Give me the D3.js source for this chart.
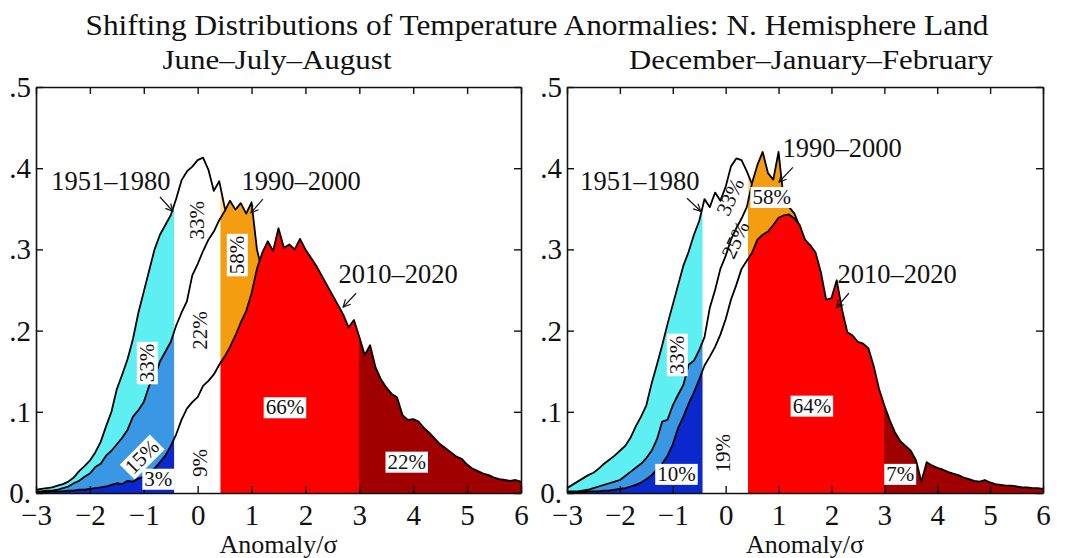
<!DOCTYPE html>
<html>
<head>
<meta charset="utf-8">
<script src="https://cdn.jsdelivr.net/npm/d3@7"></script>
<style>
  body { margin: 0; background: #fff; }
  svg text { font-family: "Liberation Serif", "Times New Roman", serif !important; fill: #111; }
</style>
</head>
<body>
<svg id="chart" width="1065" height="558"></svg>
<script>
// ---------------- DATA ----------------
// density of anomalies (per sigma) on bins from -3.0 to 6.0 sigma, step 0.1
const sigmaBins = d3.range(91).map(i => Math.round((-3 + i * 0.1) * 10) / 10);
const periods = ["1951–1980", "1990–2000", "2010–2020"];
const seasons = ["June–July–August", "December–January–February"];

// June-July-August
const jja1951_1980 = [
  .004,.005,.006,.007,.009,.011,.014,.019,.027,.033,
  .040,.050,.063,.082,.100,.128,.146,.165,.190,.222,
  .248,.274,.300,.318,.330,.342,.362,.385,.396,.402,
  .410,.413,.398,.372,.384,.352,.335,.312,.288,.262,
  .238,.212,.188,.164,.143,.123,.104,.088,.074,.061,
  .050,.041,.033,.026,.021,.016,.013,.010,.008,.006,
  .005,.004,.004,.003,.003,.003,.002,.002,.002,.002,
  .002,.001,.001,.001,.001,.001,.001,.001,.001,.001,
  .001,.001,.001,.001,.001,.001,.001,.001,.001,.001,.001];
const jja1990_2000 = [
  .002,.002,.003,.003,.004,.006,.008,.012,.015,.020,
  .024,.032,.036,.046,.052,.060,.068,.078,.094,.102,
  .112,.132,.142,.162,.174,.186,.206,.222,.236,.268,
  .282,.298,.312,.322,.336,.347,.360,.349,.357,.344,
  .358,.300,.272,.256,.240,.224,.208,.192,.176,.160,
  .145,.130,.116,.103,.091,.080,.070,.061,.053,.046,
  .040,.034,.029,.025,.021,.018,.015,.013,.011,.009,
  .008,.007,.006,.005,.004,.004,.003,.003,.002,.002,
  .002,.001,.001,.001,.001,.001,.001,.001,.001,.001,.001];
const jja2010_2020 = [
  .001,.001,.001,.002,.002,.002,.003,.003,.004,.004,
  .005,.006,.007,.008,.010,.012,.011,.015,.014,.018,
  .020,.026,.030,.038,.046,.058,.072,.090,.104,.112,
  .118,.132,.138,.146,.158,.168,.180,.194,.210,.224,
  .246,.276,.296,.310,.298,.326,.302,.306,.300,.313,
  .300,.290,.280,.268,.256,.244,.232,.220,.204,.213,
  .192,.170,.182,.155,.140,.130,.122,.118,.096,.090,
  .091,.088,.080,.074,.067,.060,.055,.050,.045,.042,
  .035,.030,.027,.024,.022,.019,.017,.016,.015,.016,.014];

// December-January-February
const djf1951_1980 = [
  .006,.010,.014,.018,.022,.025,.030,.036,.041,.046,
  .052,.058,.068,.082,.094,.108,.135,.158,.182,.208,
  .232,.256,.280,.297,.318,.335,.362,.352,.370,.360,
  .377,.402,.412,.410,.396,.380,.360,.338,.312,.288,
  .262,.236,.210,.185,.160,.138,.117,.098,.082,.068,
  .056,.046,.037,.030,.024,.019,.015,.012,.009,.007,
  .006,.005,.004,.003,.003,.002,.002,.002,.001,.001,
  .001,.001,.001,.001,.001,.001,.001,.001,.001,.001,
  .001,.001,.001,.001,.001,.001,.001,.001,.001,.001,.001];
const djf1990_2000 = [
  .002,.002,.002,.003,.004,.006,.008,.010,.012,.014,
  .016,.021,.026,.031,.036,.043,.052,.066,.088,.090,
  .108,.121,.133,.158,.163,.176,.192,.228,.250,.276,
  .292,.312,.326,.338,.352,.382,.404,.420,.394,.386,
  .420,.360,.352,.344,.328,.300,.268,.240,.214,.190,
  .166,.144,.124,.106,.090,.076,.063,.052,.043,.035,
  .028,.023,.018,.015,.012,.010,.008,.006,.005,.004,
  .004,.003,.003,.002,.002,.002,.001,.001,.001,.001,
  .001,.001,.001,.001,.001,.001,.001,.001,.001,.001,.001];
const djf2010_2020 = [
  .001,.001,.001,.001,.002,.002,.002,.003,.003,.004,
  .005,.006,.008,.010,.013,.017,.022,.029,.036,.046,
  .060,.080,.094,.110,.124,.140,.157,.168,.180,.195,
  .214,.238,.256,.276,.286,.296,.312,.318,.322,.330,
  .339,.342,.343,.338,.330,.312,.305,.296,.272,.238,
  .240,.262,.226,.198,.194,.186,.184,.178,.156,.128,
  .108,.090,.075,.064,.058,.052,.040,.014,.038,.034,
  .031,.029,.026,.024,.022,.019,.017,.015,.014,.016,
  .013,.011,.010,.009,.009,.008,.007,.007,.006,.006,.005];

// region boundaries (sigma) and tick labels
const regionBounds = [-3, -0.43, 0.43, 3, 6];
const xTickValues = [-3, -2, -1, 0, 1, 2, 3, 4, 5, 6];
const yTickValues = [0, 0.1, 0.2, 0.3, 0.4, 0.5];
const yTickLabels = ["0.", ".1", ".2", ".3", ".4", ".5"];
const jjaPercents = ["33%", "33%", "15%", "3%", "22%", "9%", "58%", "66%", "22%"];
const djfPercents = ["33%", "33%", "25%", "19%", "10%", "58%", "64%", "7%"];

// ---------------- DRAWING ----------------
const SERIF = "'Liberation Serif', 'Times New Roman', serif";
const svg = d3.select("#chart");
const plotTop = 87, plotBottom = 493;

// colours: [cold, normal, hot, extreme] per period
const regionColors = [
  ["#5eeff3", "#ffffff", "#ffd98c", "#ffd98c"],
  ["#3997e4", "#ffffff", "#f59d10", "#f59d10"],
  ["#0a28cc", "#ffffff", "#fe0000", "#a00000"]
];

svg.append("text").attr("x", 537).attr("y", 35).attr("text-anchor", "middle")
  .attr("font-size", 29).attr("textLength", 903).attr("lengthAdjust", "spacingAndGlyphs")
  .text("Shifting Distributions of Temperature Anormalies: N. Hemisphere Land");

const panels = [
  { key: "jja", left: 36, right: 521, season: seasons[0], seasonX: 277, seasonW: 229,
    series: [jja1951_1980, jja1990_2000, jja2010_2020] },
  { key: "djf", left: 567, right: 1043, season: seasons[1], seasonX: 811, seasonW: 364,
    series: [djf1951_1980, djf1990_2000, djf2010_2020] }
];

const defs = svg.append("defs");
defs.append("marker").attr("id", "arrowHead").attr("viewBox", "0 0 10 10")
  .attr("refX", 9).attr("refY", 5).attr("markerWidth", 9).attr("markerHeight", 9)
  .attr("markerUnits", "userSpaceOnUse").attr("orient", "auto")
  .append("path").attr("d", "M1,1 L9,5 L1,9").attr("fill", "none")
  .attr("stroke", "#111").attr("stroke-width", 1.3);

function addTag(g, px, py, str, angle, boxed) {
  const t = g.append("g").attr("transform", `translate(${px},${py}) rotate(${angle})`);
  const txt = t.append("text").attr("text-anchor", "middle").attr("dy", "0.35em")
    .attr("font-size", 21).style("font-family", SERIF).text(str);
  if (boxed) {
    const b = txt.node().getBBox();
    t.insert("rect", "text").attr("x", b.x - 2).attr("y", b.y + 2)
      .attr("width", b.width + 4).attr("height", b.height - 3).attr("fill", "#fff");
  }
}

function addSeriesLabel(g, x, y, str, cx, cy, ax0, ay0, ax1, ay1) {
  g.append("text").attr("x", x(cx)).attr("y", y(cy)).attr("text-anchor", "middle")
    .attr("font-size", 26.5).style("font-family", SERIF).text(str);
  g.append("line").attr("x1", x(ax0)).attr("y1", y(ay0)).attr("x2", x(ax1)).attr("y2", y(ay1))
    .attr("stroke", "#111").attr("stroke-width", 1.2).attr("marker-end", "url(#arrowHead)");
}

panels.forEach(p => {
  const x = d3.scaleLinear().domain([-3, 6]).range([p.left, p.right]);
  const y = d3.scaleLinear().domain([0, 0.5]).range([plotBottom, plotTop]);
  const g = svg.append("g");

  svg.append("text").attr("x", p.seasonX).attr("y", 69).attr("text-anchor", "middle")
    .attr("font-size", 27).attr("textLength", p.seasonW).attr("lengthAdjust", "spacingAndGlyphs")
    .text(p.season);

  const clipIds = [];
  for (let i = 0; i < 4; i++) {
    const id = `${p.key}-clip${i}`;
    const xa = x(regionBounds[i]) - (i > 0 ? 0.4 : 0);
    const xb = x(regionBounds[i + 1]) + (i < 3 ? 0.4 : 0);
    defs.append("clipPath").attr("id", id).append("rect")
      .attr("x", xa).attr("width", xb - xa).attr("y", plotTop).attr("height", plotBottom - plotTop);
    clipIds.push(id);
  }
  defs.append("clipPath").attr("id", `${p.key}-plot`).append("rect")
    .attr("x", p.left).attr("width", p.right - p.left).attr("y", plotTop).attr("height", plotBottom - plotTop);

  const area = d3.area().x((d, i) => x(sigmaBins[i])).y0(y(0)).y1(d => y(d));
  const line = d3.line().x((d, i) => x(sigmaBins[i])).y(d => y(d));

  const marks = g.append("g").attr("clip-path", `url(#${p.key}-plot)`);
  p.series.forEach((vals, si) => {
    regionColors[si].forEach((c, ri) => {
      marks.append("path").attr("d", area(vals)).attr("fill", c)
        .attr("clip-path", `url(#${clipIds[ri]})`);
    });
    marks.append("path").attr("d", line(vals)).attr("fill", "none")
      .attr("stroke", "#000").attr("stroke-width", 1.8).attr("stroke-linejoin", "round");
  });

  // axes (ticks inward)
  const fmtX = d3.format("");
  const gb = g.append("g").attr("transform", `translate(0,${plotBottom})`)
    .call(d3.axisBottom(x).tickValues(xTickValues).tickSize(-7).tickSizeOuter(0).tickPadding(13).tickFormat(d => fmtX(d)));
  const gt = g.append("g").attr("transform", `translate(0,${plotTop})`)
    .call(d3.axisTop(x).tickValues(xTickValues).tickSize(-7).tickSizeOuter(0).tickFormat(""));
  const gl = g.append("g").attr("transform", `translate(${p.left},0)`)
    .call(d3.axisLeft(y).tickValues(yTickValues).tickSize(-7).tickSizeOuter(0).tickPadding(5)
      .tickFormat((d, i) => yTickLabels[i]));
  const gr = g.append("g").attr("transform", `translate(${p.right},0)`)
    .call(d3.axisRight(y).tickValues(yTickValues).tickSize(-7).tickSizeOuter(0).tickFormat(""));
  [gb, gt, gl, gr].forEach(a => {
    a.attr("font-family", SERIF);
    a.selectAll("path.domain").attr("stroke", "#111").attr("stroke-width", 1.6);
    a.selectAll(".tick line").attr("stroke", "#111").attr("stroke-width", 1.4);
    a.selectAll(".tick text").attr("font-size", 29).style("font-family", SERIF).attr("fill", "#111");
  });
  gl.selectAll(".tick text").attr("dy", "0.33em");
  gb.selectAll(".tick text").attr("dy", "0.66em");

  g.append("text").attr("x", (p.left + p.right) / 2).attr("y", 553).attr("text-anchor", "middle")
    .attr("font-size", 26).style("font-family", SERIF).text("Anomaly/σ");

  const ann = g.append("g");
  if (p.key === "jja") {
    const L = jjaPercents;
    addTag(ann, x(-0.95), y(0.16), L[0], -90, true);
    addTag(ann, x(-0.02), y(0.336), L[1], -90, false);
    addTag(ann, x(-1.04), y(0.045), L[2], -45, true);
    addTag(ann, x(-0.73), y(0.018), L[3], 0, true);
    addTag(ann, x(0.04), y(0.2), L[4], -90, false);
    addTag(ann, x(0.04), y(0.037), L[5], -90, false);
    addTag(ann, x(0.72), y(0.293), L[6], -90, true);
    addTag(ann, x(1.62), y(0.106), L[7], 0, true);
    addTag(ann, x(3.88), y(0.039), L[8], 0, true);
    addSeriesLabel(ann, x, y, periods[0], -1.61, 0.373, -0.70, 0.3645, -0.46, 0.347);
    addSeriesLabel(ann, x, y, periods[1], 1.92, 0.373, 1.21, 0.362, 0.99, 0.345);
    addSeriesLabel(ann, x, y, periods[2], 3.72, 0.2586, 2.94, 0.246, 2.70, 0.229);
  } else {
    const L = djfPercents;
    addTag(ann, x(-0.93), y(0.17), L[0], -90, true);
    addTag(ann, x(0.08), y(0.365), L[1], -65, false);
    addTag(ann, x(0.18), y(0.312), L[2], -65, false);
    addTag(ann, x(-0.05), y(0.049), L[3], -90, false);
    addTag(ann, x(-0.93), y(0.024), L[4], 0, true);
    addTag(ann, x(0.87), y(0.365), L[5], 0, true);
    addTag(ann, x(1.63), y(0.108), L[6], 0, true);
    addTag(ann, x(3.3), y(0.024), L[7], 0, true);
    addSeriesLabel(ann, x, y, periods[0], -1.62, 0.373, -0.73, 0.363, -0.47, 0.347);
    addSeriesLabel(ann, x, y, periods[1], 2.2, 0.414, 1.27, 0.401, 1.01, 0.383);
    addSeriesLabel(ann, x, y, periods[2], 3.24, 0.2586, 2.33, 0.246, 2.09, 0.228);
  }
});
</script>
</body>
</html>
